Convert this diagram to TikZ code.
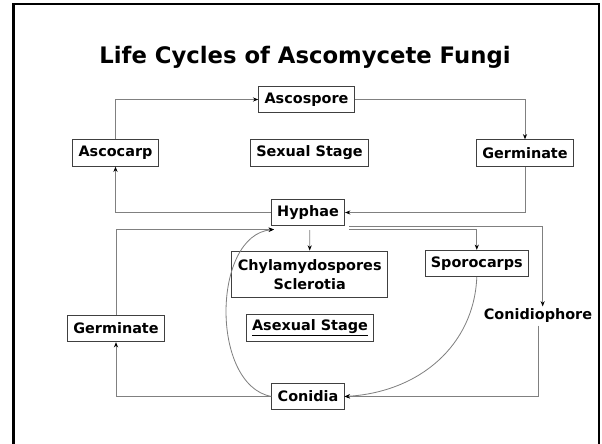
\documentclass[tikz,border=0pt]{standalone}
\usepackage{fontspec}
\setmainfont{DejaVu Sans}
\usetikzlibrary{arrows.meta, positioning, calc}

\begin{document}
\begin{tikzpicture}[
    x=0.03cm, y=-0.03cm,
    box/.style={rectangle, draw=black!75, line width=0.8pt, fill=white,
                inner xsep=5pt, inner ysep=2pt, minimum height=22.5pt,
                align=center, font=\fontsize{12.3}{16.5}\selectfont\bfseries},
    bare/.style={inner sep=2pt, align=center,
                font=\fontsize{12.3}{16.5}\selectfont\bfseries},
    arrow/.style={draw=gray, line width=0.7pt,
                -{Stealth[length=4.5pt, width=3.5pt, color=black]}}
]
    \useasboundingbox (0,0) rectangle (602,444);
    \draw[line width=1.8pt] (13.5,446) -- (13.5,4) -- (599,4) -- (599,446);

    \node[font=\fontsize{19.4}{23}\selectfont\bfseries, anchor=base] (title) at (305,63)
        {Life Cycles of Ascomycete Fungi};

    % sexual stage
    \node[box] (ascospore) at (306.5,99.5) {Ascospore};
    \node[box] (ascocarp) at (115.5,153) {Ascocarp};
    \node[box] (sexual) at (309.5,153) {Sexual Stage};
    \node[box] (germtop) at (525,153) {Germinate};
    \node[box] (hyphae) at (308,212.5) {Hyphae};

    % asexual stage
    \node[box, minimum height=40pt] (chlamy) at (309.7,274.5) {Chylamydospores\\Sclerotia};
    \node[box] (sporocarps) at (476.8,263.5) {Sporocarps};
    \node[bare] (conidiophore) at (538,316) {Conidiophore};
    \node[box] (germbot) at (116,328.5) {Germinate};
    \node[box] (asexual) at (310,328) {\underline{Asexual Stage}};
    \node[box] (conidia) at (308,396.5) {Conidia};

    \coordinate (hyin) at (274,229.5);
    \coordinate (hyout1) at (349,226.7);
    \coordinate (hyout2) at (349,229.5);
    \coordinate (hydown) at (309.8,230);

    \draw[arrow] (ascocarp.north) |- (ascospore.west);
    \draw[arrow] (ascospore.east) -| (germtop.north);
    \draw[arrow] (germtop.south) |- (hyphae.east);
    \draw[arrow] (hyphae.west) -| (ascocarp.south);

    \draw[arrow] (hyout1) -| ([xshift=4pt]conidiophore.north);
    \draw[arrow] (hyout2) -| (sporocarps.north);
    \draw[arrow] (hydown) -- (chlamy.north);
    \draw[arrow] (germbot.north) |- (hyin);
    \draw[arrow] (conidia.west) .. controls (210,385) and (212,235) .. (hyin);
    \draw[arrow] (sporocarps.south) .. controls (474,345) and (420,392) .. (conidia.east);
    \draw[arrow] (conidiophore.south) |- (conidia.east);
    \draw[arrow] (conidia.west) -| (germbot.south);
\end{tikzpicture}
\end{document}
